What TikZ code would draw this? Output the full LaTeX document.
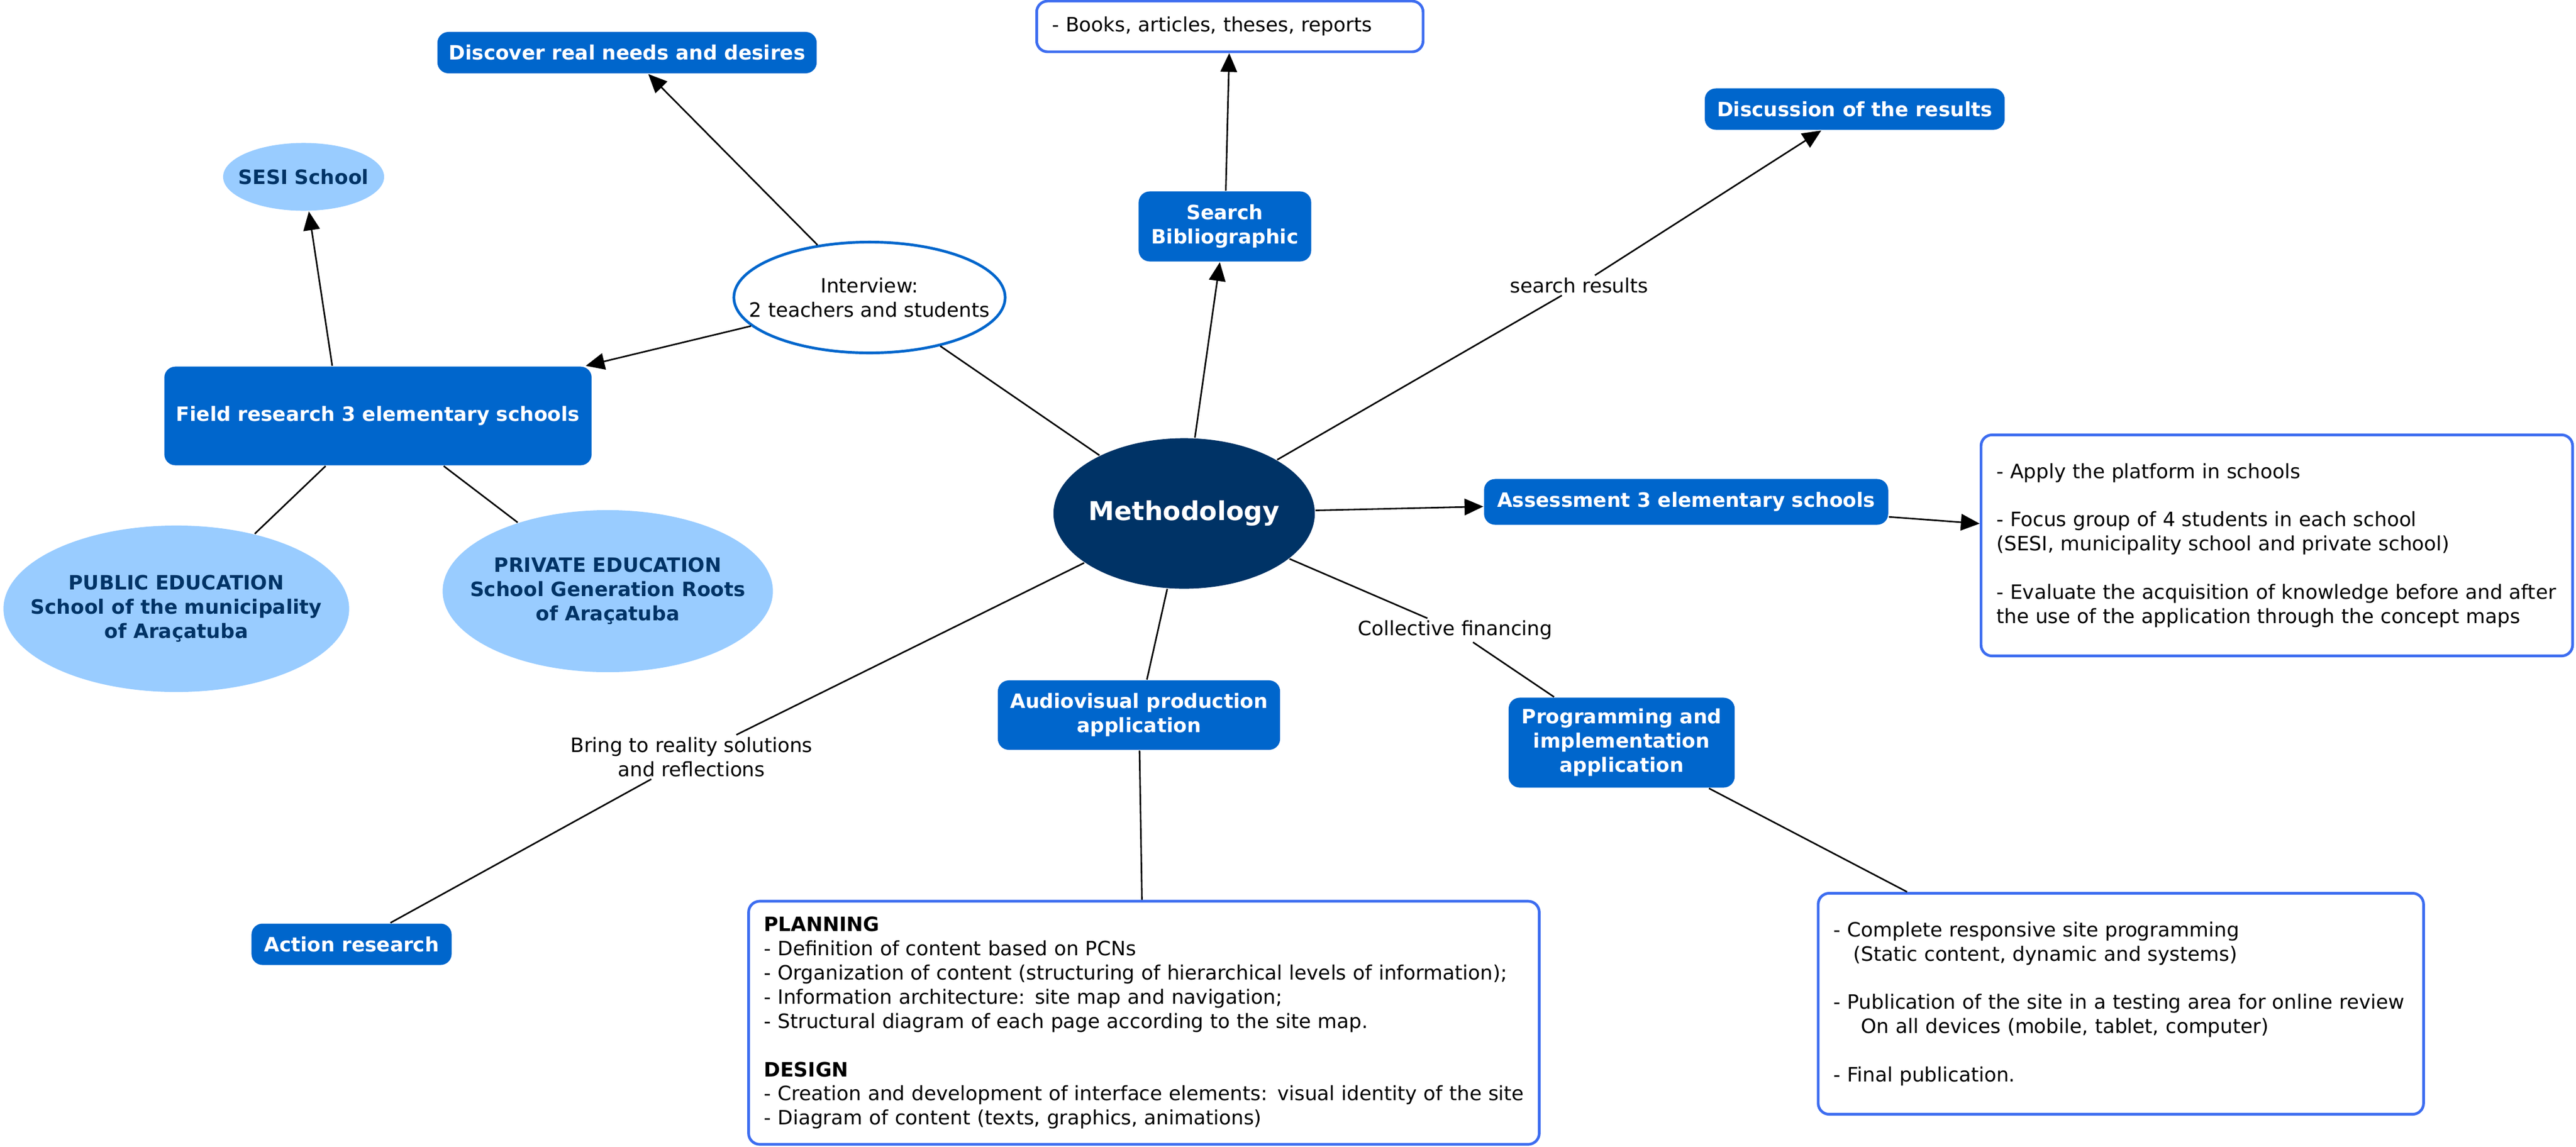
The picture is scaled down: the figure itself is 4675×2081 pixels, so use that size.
\documentclass[tikz,border=0pt]{standalone}
\usepackage{fontspec}
\setmainfont{DejaVu Sans}
\usetikzlibrary{shapes.geometric, arrows.meta}
\definecolor{boxblue}{HTML}{0066CC}
\definecolor{lightblue}{HTML}{99CCFF}
\definecolor{navy}{HTML}{003366}
\definecolor{borderblue}{HTML}{3D6DF0}
\newcommand\basefont{\fontsize{10.2pt}{12.5pt}\selectfont}
\begin{document}
\begin{tikzpicture}[x=0.01cm, y=-0.01cm, line width=0.8pt,
  bluebox/.style={rectangle, rounded corners=0.2cm, fill=boxblue, text=white, font=\basefont\bfseries, align=center, inner sep=0pt},
  detailbox/.style={rectangle, rounded corners=0.2cm, draw=borderblue, line width=1.4pt, fill=white, align=left, font=\basefont, inner xsep=0.28cm, inner ysep=0pt},
  lightell/.style={ellipse, fill=lightblue, inner sep=0pt},
  elltext/.style={font=\basefont\bfseries, text=navy, align=center, inner sep=0pt},
  plaintext/.style={font=\basefont, align=center, inner sep=0pt},
  lab/.style={fill=white, font=\basefont, align=center, inner sep=0.03cm},
  arr/.style={-{Triangle[length=0.34cm,width=0.3cm]}}]
\useasboundingbox (0,0) rectangle (4675,2081);

% nodes
\node[bluebox, minimum width=6.88cm, minimum height=0.75cm] (discover) at (1138,95.5) {Discover real needs and desires};
\node[lightell, minimum width=2.92cm, minimum height=1.23cm] (sesi) at (551,321) {};
\node[elltext] (sesitxt) at (sesi) {SESI School};
\node[ellipse, draw=boxblue, line width=1.4pt, fill=white, inner sep=0pt, minimum width=4.92cm, minimum height=2.01cm] (interview) at (1578,540) {};
\node[plaintext] (interviewtxt) at (interview) {Interview:\\2 teachers and students};
\node[bluebox, minimum width=7.75cm, minimum height=1.79cm] (field) at (686,755) {Field research 3 elementary schools};
\node[bluebox, minimum width=3.13cm, minimum height=1.27cm] (search) at (2223,411) {Search\\Bibliographic};
\node[detailbox, text width=6.45cm, minimum height=0.92cm] (books) at (2232,48) {- Books, articles, theses, reports};
\node[bluebox, minimum width=5.44cm, minimum height=0.75cm] (discussion) at (3366,198) {Discussion of the results};
\node[ellipse, fill=navy, inner sep=0pt, minimum width=4.74cm, minimum height=2.73cm] (meth) at (2149,932) {};
\node[font=\fontsize{13.4pt}{16pt}\selectfont\bfseries, text=white, inner sep=0pt] (methtxt) at (meth) {Methodology};
\node[bluebox, minimum width=7.33cm, minimum height=0.83cm] (assess) at (3060,911) {Assessment 3 elementary schools};
\node[detailbox, text width=10.17cm, minimum height=4.01cm] (assessd) at (4132,990) {- Apply the platform in schools\\[12.5pt]
- Focus group of 4 students in each school\\
(SESI, municipality school and private school)\\[12.5pt]
\mbox{- Evaluate the acquisition of knowledge before and after}\\
the use of the application through the concept maps};
\node[bluebox, minimum width=4.10cm, minimum height=1.63cm] (prog) at (2943,1348) {Programming and\\implementation\\application};
\node[detailbox, text width=10.42cm, minimum height=4.01cm] (progd) at (3849,1822) {- Complete responsive site programming\\
\hspace*{0.36cm}(Static content, dynamic and systems)\\[12.5pt]
\mbox{- Publication of the site in a testing area for online review}\\
\hspace*{0.5cm}On all devices (mobile, tablet, computer)\\[12.5pt]
- Final publication.};
\node[bluebox, minimum width=5.12cm, minimum height=1.26cm] (audio) at (2067,1298) {Audiovisual production\\application};
\node[detailbox, text width=13.78cm, minimum height=4.41cm] (planning) at (2076,1856.5) {\textbf{PLANNING}\\
- Definition of content based on PCNs\\
\mbox{- Organization of content (structuring of hierarchical levels of information);}\\
- Information architecture: site map and navigation;\\
- Structural diagram of each page according to the site map.\\[12.5pt]
\textbf{DESIGN}\\
\mbox{- Creation and development of interface elements: visual identity of the site}\\
- Diagram of content (texts, graphics, animations)};
\node[lightell, minimum width=6.27cm, minimum height=3.02cm] (public) at (320,1105) {};
\node[elltext] (publictxt) at (public) {PUBLIC EDUCATION\\School of the municipality\\of Araçatuba};
\node[lightell, minimum width=5.99cm, minimum height=2.94cm] (private) at (1103,1073) {};
\node[elltext] (privatetxt) at (private) {PRIVATE EDUCATION\\School Generation Roots\\of Araçatuba};
\node[bluebox, minimum width=3.63cm, minimum height=0.75cm] (action) at (638,1714) {Action research};

% linking phrases
\node[lab] (lsearch) at (2866,518) {search results};
\node[lab] (lcoll) at (2641,1144) {Collective financing};
\node[lab] (lbring) at (1255,1374) {Bring to reality solutions\\and reflections};

% connectors
\draw (meth) -- (interview);
\draw[arr] (interview) -- (discover);
\draw[arr] (interview) -- (field);
\draw[arr] ([xshift=-0.83cm]field.north) -- (sesi);
\draw (field) -- (public);
\draw (field) -- (private);
\draw[arr] (meth) -- (search);
\draw[arr] (search) -- (books);
\draw (meth) -- (lsearch);
\draw[arr] (lsearch) -- (discussion);
\draw[arr] (meth) -- (assess);
\draw[arr] (assess) -- (assessd);
\draw (meth) -- (lcoll);
\draw (lcoll) -- (prog);
\draw (prog) -- (progd);
\draw (meth) -- (audio);
\draw (audio) -- (planning);
\draw (meth) -- (lbring);
\draw (lbring) -- (action);
\end{tikzpicture}
\end{document}
